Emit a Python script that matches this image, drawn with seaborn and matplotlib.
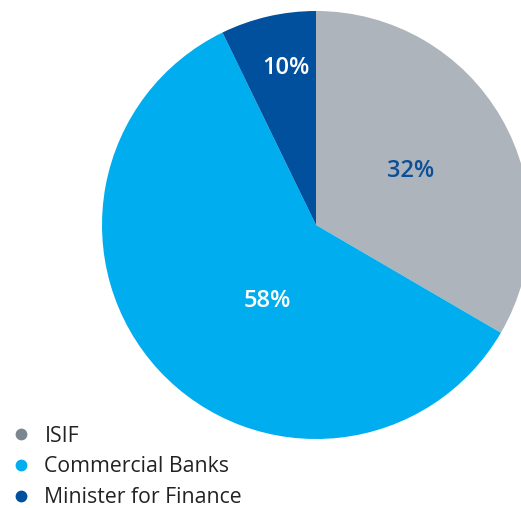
import matplotlib
matplotlib.use("Agg")
import matplotlib.pyplot as plt
from matplotlib.lines import Line2D
import seaborn as sns
import numpy as np

categories = ["ISIF", "Commercial Banks", "Minister for Finance"]
values = [33.4, 59.4, 7.2]
pct_labels = ["32%", "58%", "10%"]
wedge_colors = ["#adb4bb", "#00aeef", "#00509e"]
legend_colors = ["#7b8690", "#00aeef", "#00509e"]
label_colors = ["#0b4f98", "#ffffff", "#ffffff"]

sns.set_theme(style="white")
plt.rcParams["font.family"] = ["Open Sans", "DejaVu Sans"]

W, H = 521, 508
fig = plt.figure(figsize=(W / 100, H / 100), dpi=100)
ax = fig.add_axes([0, 0, 1, 1])

R = 214
cx, cy = 316, 225  # pixel position of pie centre (from top-left)
wedges, _ = ax.pie(values, colors=wedge_colors, startangle=90, counterclock=False,
                   radius=R, center=(0, 0), wedgeprops=dict(linewidth=0))
ax.set_xlim(-cx, W - cx)
ax.set_ylim(-(H - cy), cy)
ax.set_aspect("equal")
ax.axis("off")

# label placement: (fraction of radius, angle offset from wedge middle)
label_pos = [(0.51, 0), (0.42, 14.5), (0.745, -2)]
for w, lab, col, (d, off) in zip(wedges, pct_labels, label_colors, label_pos):
    ang = np.deg2rad((w.theta1 + w.theta2) / 2 + off)
    ax.text(d * R * np.cos(ang), d * R * np.sin(ang), lab, ha="center", va="center",
            fontsize=17, fontweight="semibold", color=col)

handles = [Line2D([], [], marker="o", linestyle="none", markersize=8.5,
                  markerfacecolor=c, markeredgewidth=0) for c in legend_colors]
fig.legend(handles, categories, loc="lower left", bbox_to_anchor=(10 / W, 0),
           frameon=False, fontsize=15.3, handlelength=1.0, handletextpad=0.62,
           labelspacing=0.45, borderpad=0, borderaxespad=0, labelcolor="#222222")

fig.savefig("out.png", dpi=100)
